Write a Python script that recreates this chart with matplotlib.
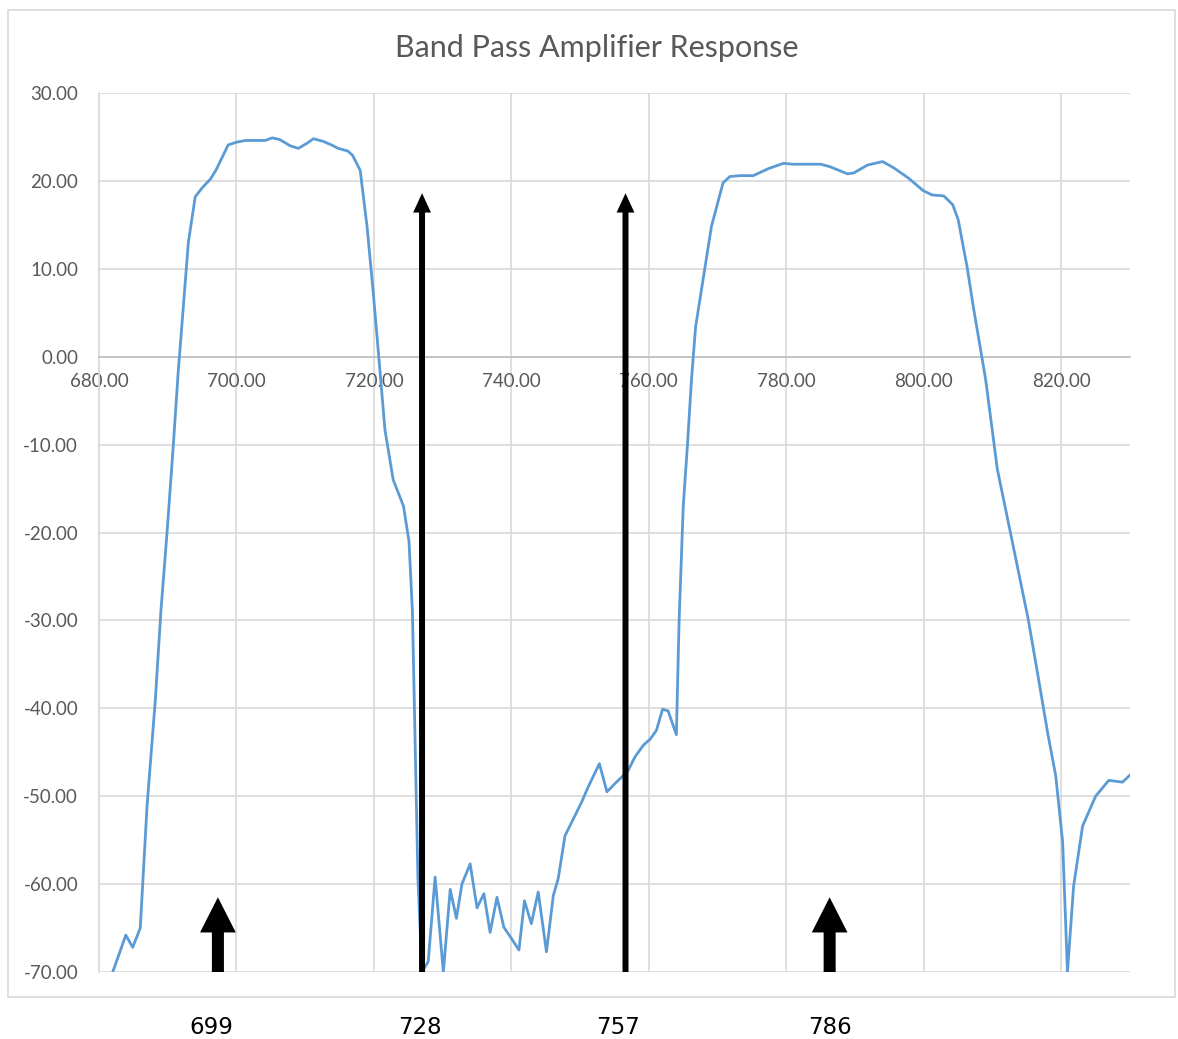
import numpy as np
import matplotlib
matplotlib.use("Agg")
import matplotlib.pyplot as plt
from matplotlib.patches import Rectangle, FancyArrow
from matplotlib.ticker import FuncFormatter
import matplotlib.transforms as mtransforms

# ---- data ----
freq = [682.0, 683.9, 684.9, 686.0, 687.0, 688.2, 689.0, 689.9, 690.8, 691.5,
        693.0, 694.0, 695.0, 696.2, 697.0, 698.8, 700.0, 701.3, 702.7, 704.2,
        705.2, 706.3, 707.8, 709.0, 710.3, 711.2, 712.6, 713.8, 714.8, 716.2,
        716.9, 718.0, 719.0, 719.9, 720.9, 721.6, 722.8, 724.3, 725.1, 725.6,
        726.4, 727.0, 727.9, 728.9, 730.1, 731.1, 732.0, 732.8, 734.0, 735.0,
        736.0, 736.9, 737.9, 738.9, 740.1, 741.1, 741.9, 742.9, 743.9, 745.1,
        746.1, 746.8, 747.8, 749.0, 750.2, 751.2, 752.8, 753.9, 755.4, 756.9,
        758.0, 759.2, 760.2, 761.1, 762.0, 762.8, 764.0, 764.4, 765.0, 765.6,
        766.2, 766.8, 769.1, 770.8, 771.8, 773.3, 775.2, 777.4, 779.6, 780.9,
        785.0, 786.4, 788.9, 789.8, 791.8, 794.0, 795.6, 797.8, 799.9, 801.2,
        802.9, 804.2, 805.0, 806.3, 807.2, 809.0, 810.7, 812.6, 815.2, 816.7,
        818.0, 819.2, 820.2, 820.9, 821.8, 823.1, 825.0, 826.9, 828.9, 830.0]
gain = [-70.0, -65.8, -67.2, -65.0, -51.0, -39.0, -29.0, -20.0, -10.2, -2.0,
        13.0, 18.2, 19.2, 20.2, 21.2, 24.1, 24.4, 24.6, 24.6, 24.6,
        24.9, 24.7, 24.0, 23.7, 24.3, 24.8, 24.5, 24.1, 23.7, 23.4,
        22.9, 21.2, 14.8, 7.3, -1.8, -8.3, -14.0, -17.0, -21.0, -29.0,
        -59.4, -70.0, -68.8, -59.2, -70.0, -60.6, -63.9, -60.0, -57.7, -62.7,
        -61.1, -65.5, -61.5, -64.9, -66.3, -67.5, -61.9, -64.5, -60.9, -67.7,
        -61.3, -59.4, -54.5, -52.6, -50.7, -48.9, -46.3, -49.5, -48.3, -47.2,
        -45.5, -44.2, -43.5, -42.5, -40.1, -40.3, -43.0, -30.0, -17.0, -10.2,
        -2.6, 3.4, 14.8, 19.8, 20.5, 20.6, 20.6, 21.4, 22.0, 21.9,
        21.9, 21.6, 20.8, 20.9, 21.8, 22.2, 21.5, 20.3, 18.9, 18.4,
        18.3, 17.3, 15.6, 10.2, 5.7, -2.6, -12.8, -20.0, -29.9, -36.7,
        -42.7, -47.7, -55.2, -70.0, -60.2, -53.4, -50.0, -48.2, -48.4, -47.6]

xticks = [680, 700, 720, 740, 760, 780, 800, 820]
yticks = [30, 20, 10, 0, -10, -20, -30, -40, -50, -60, -70]

# marker arrows (frequency, tip level) and their labels
thin_arrow_x = [727.0, 756.6]
thin_arrow_tip = 18.6
thick_arrow_x = [697.3, 786.3]
thick_arrow_tip = -61.5
marker_labels = ["699", "728", "757", "786"]
marker_label_x = [696.4, 726.7, 755.5, 786.4]

title = "Band Pass Amplifier Response"

# ---- figure ----
W, H = 1178, 1039
fig = plt.figure(figsize=(W / 100, H / 100), dpi=100)
fig.patch.set_facecolor("white")

# outer chart border
fig.patches.append(Rectangle((8 / W, 1 - 997 / H), 1167 / W, 987 / H,
                             transform=fig.transFigure, fill=False,
                             ec="#d9d9d9", lw=1.2))

left, right, top, bottom = 99, 1130, 93, 972
ax = fig.add_axes([left / W, 1 - bottom / H, (right - left) / W, (bottom - top) / H])
ax.set_xlim(680, 830)
ax.set_ylim(-70, 30)

ax.set_xticks(xticks)
ax.set_yticks(yticks)
ax.xaxis.set_major_formatter(FuncFormatter(lambda v, p: f"{v:.2f}"))
ax.yaxis.set_major_formatter(FuncFormatter(lambda v, p: f"{v:.2f}".replace("\u2212", "-")))

ax.grid(True, color="#d9d9d9", lw=1.2)
ax.set_axisbelow(True)
for s in ["top", "right"]:
    ax.spines[s].set_visible(False)
ax.spines["left"].set_color("#d9d9d9")
ax.spines["left"].set_linewidth(1.2)
ax.spines["bottom"].set_position(("data", 0))
ax.spines["bottom"].set_color("#bfbfbf")
ax.spines["bottom"].set_linewidth(1.2)

ax.tick_params(axis="x", length=0, pad=12, labelsize=13.5, labelcolor="#595959")
ax.tick_params(axis="y", length=0, pad=15, labelsize=13.5, labelcolor="#595959")
for lab in ax.get_xticklabels() + ax.get_yticklabels():
    lab.set_family("Lato")

ax.plot(freq, gain, color="#5B9BD5", lw=2.0, solid_joinstyle="round", zorder=3)

# arrows
for x in thin_arrow_x:
    ax.add_patch(FancyArrow(x, -70, 0, thin_arrow_tip + 70, width=0.87,
                            head_width=2.6, head_length=2.2,
                            length_includes_head=True, color="black", lw=0, zorder=4))
for x in thick_arrow_x:
    ax.add_patch(FancyArrow(x, -70, 0, thick_arrow_tip + 70, width=1.75,
                            head_width=5.2, head_length=4.0,
                            length_includes_head=True, color="black", lw=0, zorder=4))

# labels under the chart
trans = mtransforms.blended_transform_factory(ax.transData, fig.transFigure)
for x, t in zip(marker_label_x, marker_labels):
    fig.text(x, 1 - 1028 / H, t, transform=trans, ha="center", va="center",
             fontsize=16.5, color="black", family="DejaVu Sans")

fig.text(597 / W, 1 - 48 / H, title, ha="center", va="center",
         fontsize=22, color="#595959", family="Lato")

fig.savefig("out.png", dpi=100)
